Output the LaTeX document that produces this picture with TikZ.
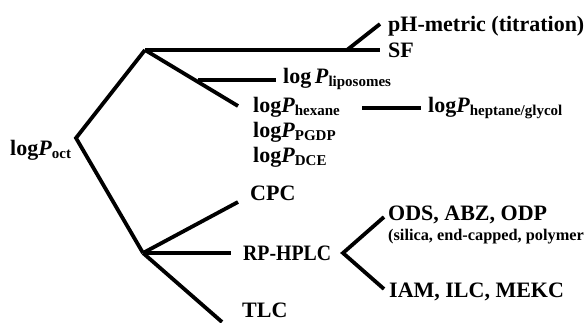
\documentclass[tikz,border=0pt]{standalone}
\usepackage{fontspec}
\usepackage{graphicx}
\setmainfont{Liberation Serif}
\newcommand\sbs[1]{\raisebox{-0.32ex}{\fontsize{15}{15}\selectfont #1}}
\newcommand\lP{log\textit{P}}
\begin{document}
\begin{tikzpicture}[x=1pt,y=-1pt,
  lab/.style={anchor=base west,inner sep=0pt,font=\fontsize{22}{22}\selectfont\bfseries},
  small/.style={anchor=base west,inner sep=0pt,font=\fontsize{16.3}{16.3}\selectfont\bfseries},
  br/.style={line width=3.8pt}]
\useasboundingbox (0,0) rectangle (586,322);
% vertices and ends
\coordinate (root) at (76,138);
\coordinate (up) at (145,50);
\coordinate (upEnd) at (380,50);
\coordinate (fork) at (347,50);
\coordinate (phEnd) at (380,24);
\coordinate (diagEnd) at (238,106);
\coordinate (lipA) at (198,80);
\coordinate (lipB) at (276,80);
\coordinate (hexA) at (362,108);
\coordinate (hexB) at (421,108);
\coordinate (low) at (143,253);
\coordinate (cpcEnd) at (238,202);
\coordinate (rpEnd) at (231,253);
\coordinate (tlcEnd) at (222,322);
\coordinate (rpV) at (343,253);
\coordinate (odsEnd) at (384,217);
\coordinate (iamEnd) at (384,289);
% labels
\node[lab] (oct) at (10,155) {\lP\sbs{oct}};
\node[lab] (ph) at (388,31) {pH-metric (titration)};
\node[lab] (sf) at (388,57) {SF};
\node[lab] (lip) at (283,83) {log\,\textit{P}\sbs{liposomes}};
\node[lab] (hex) at (253,112) {\lP\sbs{hexane}};
\node[lab] (hep) at (428,112) {\lP\sbs{heptane/glycol}};
\node[lab] (pgdp) at (253,137) {\lP\sbs{PGDP}};
\node[lab] (dce) at (253,162) {\lP\sbs{DCE}};
\node[lab] (cpc) at (250,200) {CPC};
\node[lab] (rp) at (243,260) {\scalebox{0.9}[1]{RP-HPLC}};
\node[lab] (ods) at (388,220) {ODS, ABZ, ODP};
\node[small] (sil) at (388,240) {(silica, end-capped, polymer};
\node[lab] (iam) at (389,297) {IAM, ILC, MEKC};
\node[lab] (tlc) at (242,317) {TLC};
% branches
\draw[br,line join=miter] (up) -- (root) -- (low);
\draw[br] (up) -- (upEnd);
\draw[br] (fork) -- (phEnd);
\draw[br] (up) -- (diagEnd);
\draw[br] (lipA) -- (lipB);
\draw[br] (hexA) -- (hexB);
\draw[br] (low) -- (cpcEnd);
\draw[br] (low) -- (rpEnd);
\draw[br] (low) -- (tlcEnd);
\draw[br,line join=miter] (odsEnd) -- (rpV) -- (iamEnd);
\end{tikzpicture}
\end{document}
